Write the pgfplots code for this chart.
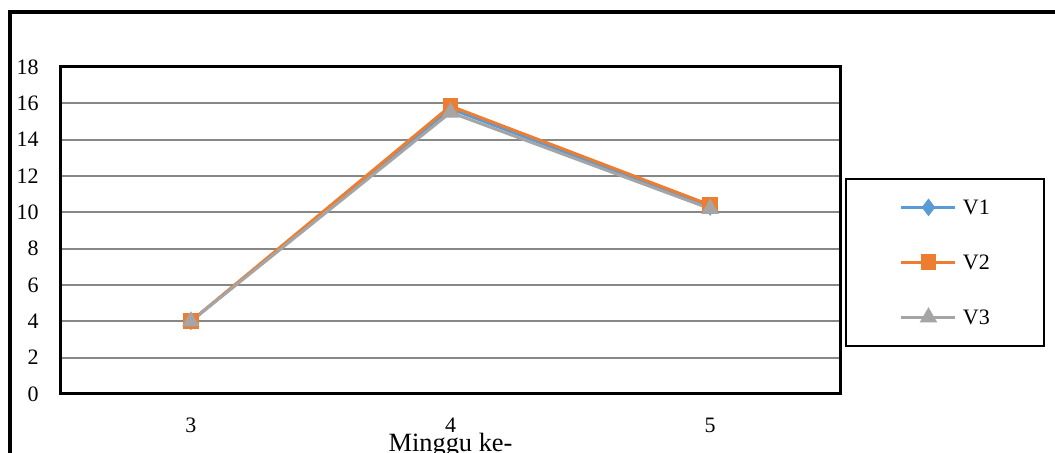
\documentclass[border=0pt]{standalone}
\usepackage{fontspec}
\setmainfont{Liberation Serif}
\usepackage{pgfplots}
\pgfplotsset{compat=1.18}
\definecolor{vone}{HTML}{5B9BD5}
\definecolor{vtwo}{HTML}{ED7D31}
\definecolor{vthree}{HTML}{A5A5A5}
\definecolor{gridgray}{HTML}{878787}
\begin{document}
\begin{tikzpicture}[x=0.5pt,y=0.5pt]
\useasboundingbox (0,0) rectangle (1055,453);
\clip (0,0) rectangle (1055,453);
% outer chart border
\draw[line width=2pt] (10,-20) -- (10,441) -- (1080,441);
\begin{axis}[
  at={(30.5pt,29.5pt)}, anchor=south west,
  scale only axis, width=389.5pt, height=163.5pt,
  xmin=0, xmax=3, ymin=0, ymax=18,
  xtick={0.5,1.5,2.5}, xticklabels={3,4,5},
  ytick={0,2,...,18},
  ymajorgrids, grid style={gridgray, line width=1pt},
  major tick length=0pt,
  axis line style={line width=1.5pt, black},
  tick label style={font=\fontsize{11}{13}\selectfont},
  /pgf/number format/assume math mode=true,
  yticklabel style={anchor=east, inner sep=0pt, xshift=-11pt},
  xticklabel style={anchor=north, inner sep=0pt, yshift=-12pt},
  xlabel={Minggu ke-},
  xlabel style={at={(axis description cs:0.5,0)}, anchor=north, inner sep=0pt,
    yshift=-19.5pt, font=\fontsize{13.2}{15}\selectfont},
  legend cell align=left,
  legend image code/.code={
    \draw[mark repeat=2, mark phase=2, #1]
      plot coordinates {(0pt,0pt) (13.5pt,0pt) (27pt,0pt)};},
  legend style={at={(axis description cs:1.0064,0.6606)}, anchor=north west,
    draw=black, line width=1pt, font=\fontsize{11}{13}\selectfont,
    nodes={inner sep=0pt, text height=7.4pt, text depth=0pt},
    inner xsep=27pt, inner ysep=10.5pt, row sep=20.1pt, column sep=3pt},
]
\addplot[vone, line width=1.5pt, mark=diamond*, mark size=3.2pt,
  mark options={solid, fill=vone}]
  coordinates {(0.5,4.0) (1.5,15.7) (2.5,10.3)};
\addlegendentry{V1}
\addplot[vtwo, line width=1.5pt, mark=square*, mark size=3.2pt,
  mark options={solid, fill=vtwo}]
  coordinates {(0.5,4.0) (1.5,15.85) (2.5,10.4)};
\addlegendentry{V2}
\addplot[vthree, line width=1.5pt, mark=triangle*, mark size=3.6pt,
  mark options={solid, fill=vthree}]
  coordinates {(0.5,4.0) (1.5,15.5) (2.5,10.2)};
\addlegendentry{V3}
\end{axis}
\end{tikzpicture}
\end{document}
